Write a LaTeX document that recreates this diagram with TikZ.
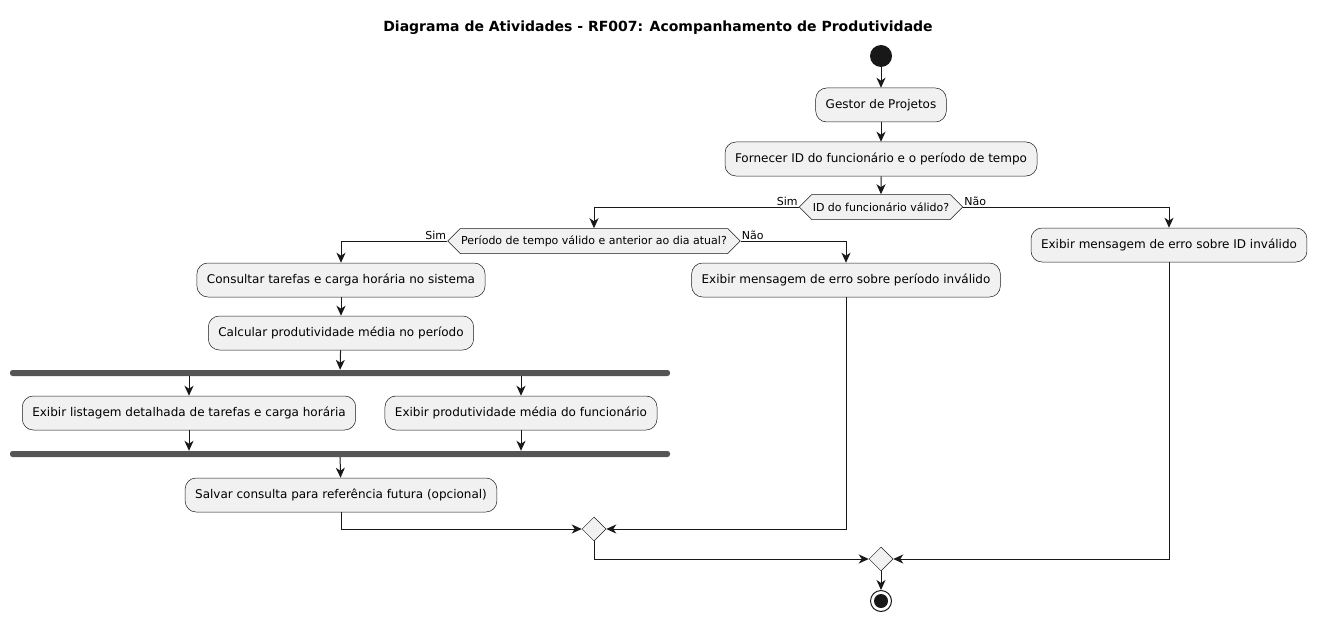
\documentclass[tikz,border=0pt]{standalone}
\usepackage{fontspec}
\setmainfont{DejaVu Sans}
\usetikzlibrary{arrows.meta,shapes.geometric,shapes.symbols}
\definecolor{actfill}{HTML}{F1F1F1}
\definecolor{actline}{HTML}{181818}
\definecolor{barcol}{HTML}{555555}
\tikzset{
 act/.style={draw=actline,line width=0.5pt,fill=actfill,rounded corners=11pt,
  minimum height=34pt,inner xsep=10pt,font=\fontsize{12}{14}\selectfont},
 choice/.style={draw=actline,line width=0.5pt,fill=actfill,signal,signal to=west and east,
  signal pointer angle=90,minimum height=25pt,inner xsep=1pt,inner ysep=0pt,
  font=\fontsize{11}{13}\selectfont},
 merge/.style={draw=actline,line width=0.5pt,fill=actfill,diamond,minimum size=24pt,inner sep=0pt},
 bar/.style={fill=barcol,rounded corners=2.5pt,minimum height=6pt,inner sep=0pt},
 flow/.style={draw=actline,line width=1pt,-{Stealth[length=10pt,width=9pt,inset=3pt]}},
 lbl/.style={font=\fontsize{11}{13}\selectfont,inner sep=1pt}
}
\begin{document}
\begin{tikzpicture}[x=1pt,y=-1pt]
 \useasboundingbox (0,0) rectangle (1317,623);
 \node[font=\bfseries\fontsize{14}{16}\selectfont] (title) at (658,28) {Diagrama de Atividades - RF007: Acompanhamento de Produtividade};
 % start
 \node[circle,fill=actline,minimum size=22pt,inner sep=0pt] (start) at (881,56) {};
 \node[act] (gestor) at (881,105) {Gestor de Projetos};
 \node[act] (fornecer) at (881,159) {Fornecer ID do funcionário e o período de tempo};
 \node[choice] (d1) at (881,207) {ID do funcionário válido?};
 \node[choice] (d2) at (594,241) {Período de tempo válido e anterior ao dia atual?};
 \node[act] (erroid) at (1169,245) {Exibir mensagem de erro sobre ID inválido};
 \node[act] (consultar) at (341,280) {Consultar tarefas e carga horária no sistema};
 \node[act] (erroper) at (846,280) {Exibir mensagem de erro sobre período inválido};
 \node[act] (calcular) at (341,333) {Calcular produtividade média no período};
 % fork / join
 \node[bar,minimum width=660pt] (fork) at (340,373) {};
 \node[act] (listagem) at (189,413) {Exibir listagem detalhada de tarefas e carga horária};
 \node[act] (media) at (521,413) {Exibir produtividade média do funcionário};
 \node[bar,minimum width=660pt] (join) at (340,454) {};
 \node[act] (salvar) at (341,495) {Salvar consulta para referência futura (opcional)};
 \node[merge] (m1) at (594,529) {};
 \node[merge] (m2) at (881,559) {};
 % end
 \node[circle,draw=actline,line width=1pt,fill=white,minimum size=21pt,inner sep=0pt] (stop) at (881,601) {};
 \node[circle,fill=actline,minimum size=14pt,inner sep=0pt] at (stop) {};
 % connectors
 \draw[flow] (start) -- (gestor);
 \draw[flow] (gestor) -- (fornecer);
 \draw[flow] (fornecer) -- (d1);
 \draw[flow] (d1.west) -| (d2.north);
 \draw[flow] (d1.east) -| (erroid.north);
 \node[lbl,anchor=south east] at (d1.west) {Sim};
 \node[lbl,anchor=south west] at (d1.east) {Não};
 \draw[flow] (d2.west) -| (consultar.north);
 \draw[flow] (d2.east) -| (erroper.north);
 \node[lbl,anchor=south east] at (d2.west) {Sim};
 \node[lbl,anchor=south west] at (d2.east) {Não};
 \draw[flow] (consultar) -- (calcular);
 \draw[flow] (calcular) -- (fork);
 \draw[flow] (fork.south -| listagem.north) -- (listagem);
 \draw[flow] (fork.south -| media.north) -- (media);
 \draw[flow] (listagem) -- (listagem |- join.north);
 \draw[flow] (media) -- (media |- join.north);
 \draw[flow] (join) -- (salvar);
 \draw[flow] (salvar.south) |- (m1.west);
 \draw[flow] (erroper.south) |- (m1.east);
 \draw[flow] (m1.south) |- (m2.west);
 \draw[flow] (erroid.south) |- (m2.east);
 \draw[flow] (m2) -- (stop);
\end{tikzpicture}
\end{document}
